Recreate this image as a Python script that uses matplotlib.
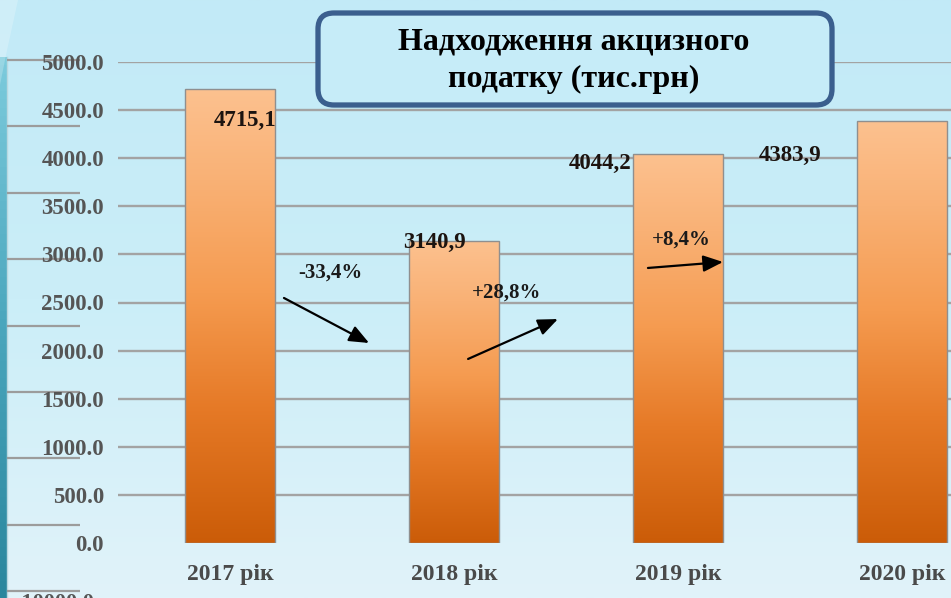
import numpy as np
import matplotlib
matplotlib.use("Agg")
import matplotlib.pyplot as plt
from matplotlib.colors import LinearSegmentedColormap
from matplotlib.patches import FancyBboxPatch, Polygon

# Excise tax revenue, thousand UAH
years = ["2017 рік", "2018 рік", "2019 рік", "2020 рік"]
revenue = [4715.1, 3140.9, 4044.2, 4383.9]
changes = ["-33,4%", "+28,8%", "+8,4%"]
y_ticks = [0, 500, 1000, 1500, 2000, 2500, 3000, 3500, 4000, 4500, 5000]

# where the value / change captions sit (category position, value level)
value_label_at = [(0.067, 4397), (0.915, 3129), (1.652, 3950), (2.50, 4033)]
change_label_at = [(0.446, 2807), (1.237, 2599), (2.013, 3150)]
change_arrows = [((0.241, 2547), (0.621, 2079)),
                 ((1.063, 1913), (1.464, 2328)),
                 ((1.866, 2859), (2.201, 2921))]

FONT = ["Liberation Serif", "DejaVu Serif"]
plt.rcParams["font.family"] = FONT

W, H = 951, 598
fig = plt.figure(figsize=(W / 100, H / 100), dpi=100)

# background: soft cyan gradient
bg = fig.add_axes([0, 0, 1, 1], zorder=0)
bg_cmap = LinearSegmentedColormap.from_list("bg", ["#c2eaf7", "#cbeef8", "#e1f3fa"])
bg.imshow(np.linspace(0, 1, 256).reshape(-1, 1), cmap=bg_cmap, aspect="auto",
          extent=(0, W, H, 0))
# faint light streak in the top-left corner
bg.add_patch(Polygon([(0, 0), (18, 0), (6, 55), (0, 85)], closed=True,
                     facecolor="white", edgecolor="none", alpha=0.22))
# teal strip on the left edge
strip = LinearSegmentedColormap.from_list("strip", ["#7ccbdc", "#4aa6bd", "#2a869d"])
bg.imshow(np.linspace(0, 1, 64).reshape(-1, 1), cmap=strip, aspect="auto",
          extent=(0, 7, H, 57))
bg.plot([7, 7], [57, H], color="#b8d8e0", lw=1.0)
for yy in np.linspace(60, 591, 9):
    bg.plot([7, 80], [yy, yy], color="#9c9c9c", lw=1.6, solid_capstyle="butt")
bg.text(14, 593, "-10000.0", ha="left", va="top", fontsize=16, fontweight="bold",
        color="#555555")
bg.set_xlim(0, W)
bg.set_ylim(H, 0)
bg.axis("off")

# main chart
ax = fig.add_axes([118 / W, (H - 543) / H, 833 / W, 481 / H], zorder=1)
ax.patch.set_alpha(0)
x = np.arange(len(years))
bar_w = 0.402
bar_cmap = LinearSegmentedColormap.from_list(
    "bar", [(0.0, "#cb5c08"), (0.3, "#e67a27"), (0.55, "#f59b50"),
            (0.8, "#f9b175"), (1.0, "#fcc18f")])
grad = np.linspace(0, 1, 256).reshape(-1, 1)
bars = ax.bar(x, revenue, width=bar_w, facecolor="none", edgecolor="#8f8f8f",
              linewidth=1.0, zorder=3)
for b, v in zip(bars, revenue):
    im = ax.imshow(grad, cmap=bar_cmap, origin="lower", aspect="auto",
                   extent=(b.get_x(), b.get_x() + b.get_width(), 0, v), zorder=2)
    im.set_clip_path(b)

ax.set_xlim(-0.5, 3.219)
ax.set_ylim(0, 5000)
ax.set_yticks(y_ticks)
ax.set_yticklabels([f"{t:.1f}" for t in y_ticks])
ax.set_xticks(x)
ax.set_xticklabels(years)
ax.tick_params(axis="y", length=0, pad=10, labelsize=16.5, labelcolor="#555555")
ax.tick_params(axis="x", length=0, pad=15, labelsize=17, labelcolor="#4a4a4a")
for lab in ax.get_yticklabels() + ax.get_xticklabels():
    lab.set_fontweight("bold")
ax.yaxis.grid(True, color="#a3a3a3", linewidth=1.7, zorder=1)
ax.set_axisbelow(True)
ax.get_ygridlines()[0].set_visible(False)
for s in ax.spines.values():
    s.set_visible(False)

for v, (px, py) in zip(revenue, value_label_at):
    ax.text(px, py, f"{v:.1f}".replace(".", ","), ha="center", va="center",
            fontsize=16.5, fontweight="bold", color="#1c1410", zorder=5)
for t, (px, py) in zip(changes, change_label_at):
    ax.text(px, py, t, ha="center", va="center", fontsize=15, fontweight="bold",
            color="#1a1a1a", zorder=5)
for start, end in change_arrows:
    ax.annotate("", xy=end, xytext=start, zorder=5,
                arrowprops=dict(arrowstyle="-|>,head_length=0.6,head_width=0.25",
                                color="black", lw=1.6, mutation_scale=20,
                                shrinkA=0, shrinkB=0))

# title box on top
top = fig.add_axes([0, 0, 1, 1], zorder=2)
top.patch.set_alpha(0)
top.set_xlim(0, W)
top.set_ylim(H, 0)
top.axis("off")
box = FancyBboxPatch((331, 26), 488, 66, boxstyle="round,pad=13,rounding_size=16",
                     facecolor="#c6ecf8", edgecolor="#3b5f8e", linewidth=3.8)
top.add_patch(box)
top.text(574, 61, "Надходження акцизного\nподатку (тис.грн)", ha="center",
         va="center", fontsize=23, fontweight="bold", color="black",
         linespacing=1.38)

fig.savefig("out.png", dpi=100)
